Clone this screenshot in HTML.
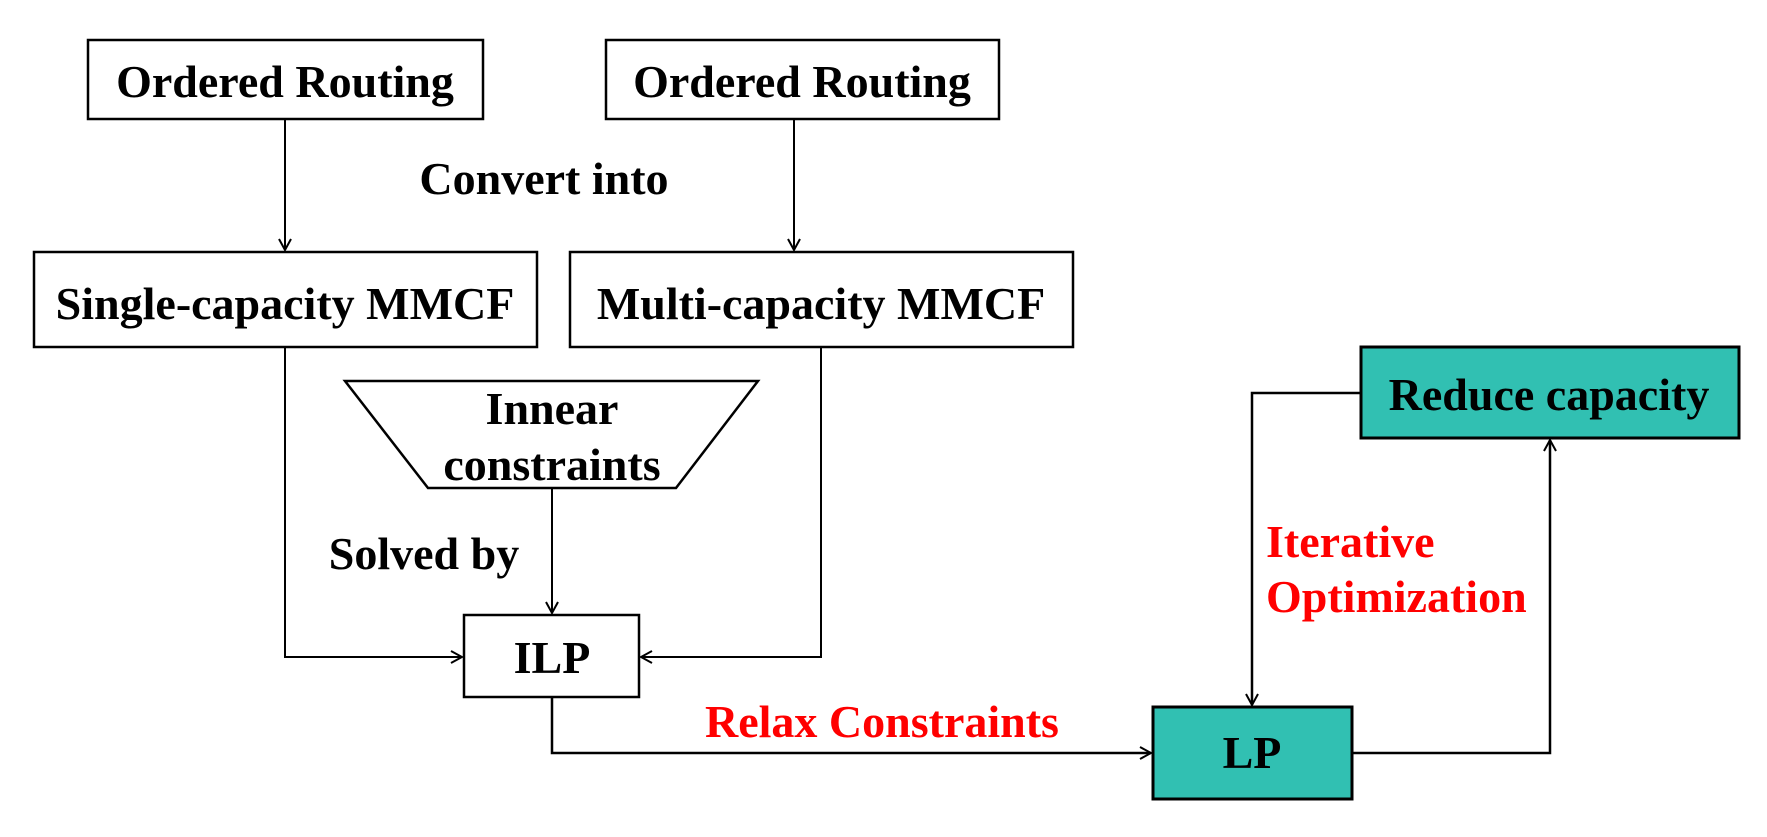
<!DOCTYPE html>
<html><head><style>
body{margin:0;background:#fff;}
svg text{font-family:"Liberation Serif",serif;font-weight:bold;font-size:46px;}
</style></head><body>
<svg width="1767" height="832" xmlns="http://www.w3.org/2000/svg">
<defs>
<marker id="a" markerWidth="14" markerHeight="14" refX="12" refY="7" orient="auto" markerUnits="userSpaceOnUse">
<path d="M1,1 L12,7 L1,13" fill="none" stroke="#000" stroke-width="2"/>
</marker>
</defs>
<g fill="#fff" stroke="#000" stroke-width="2.5">
<rect x="88" y="40" width="395" height="79"/>
<rect x="606" y="40" width="393" height="79"/>
<rect x="34" y="252" width="503" height="95"/>
<rect x="570" y="252" width="503" height="95"/>
<polygon points="345,381 758,381 676,488 428,488"/>
<rect x="464" y="615" width="175" height="82"/>
<rect x="1153" y="707" width="199" height="92" fill="#31C0B2" stroke-width="3"/>
<rect x="1361" y="347" width="378" height="91" fill="#31C0B2" stroke-width="3"/>
</g>
<g fill="none" stroke="#000" stroke-width="2">
<path d="M285,119 V250" marker-end="url(#a)"/>
<path d="M794,119 V250" marker-end="url(#a)"/>
<path d="M285,347 V657 H462" marker-end="url(#a)"/>
<path d="M821,347 V657 H641" marker-end="url(#a)"/>
<path d="M552,488 V613" marker-end="url(#a)"/>
<path d="M552,697 V753 H1151" marker-end="url(#a)" stroke-width="2.5"/>
<path d="M1361,393 H1252 V705" marker-end="url(#a)" stroke-width="2.5"/>
<path d="M1352,753 H1550 V440" marker-end="url(#a)" stroke-width="2.5"/>
</g>
<g text-anchor="middle">
<text x="285" y="97">Ordered Routing</text>
<text x="802" y="97">Ordered Routing</text>
<text x="544" y="194">Convert into</text>
<text x="285" y="319">Single-capacity MMCF</text>
<text x="821" y="319">Multi-capacity MMCF</text>
<text x="552" y="424">Innear</text>
<text x="552" y="480">constraints</text>
<text x="424" y="569">Solved by</text>
<text x="552" y="673">ILP</text>
<text x="1252" y="768">LP</text>
<text x="1549" y="410">Reduce capacity</text>
<text x="882" y="737" fill="#f00">Relax Constraints</text>
</g>
<text x="1266" y="557" fill="#f00">Iterative</text>
<text x="1266" y="612" fill="#f00">Optimization</text>
</svg>
</body></html>
